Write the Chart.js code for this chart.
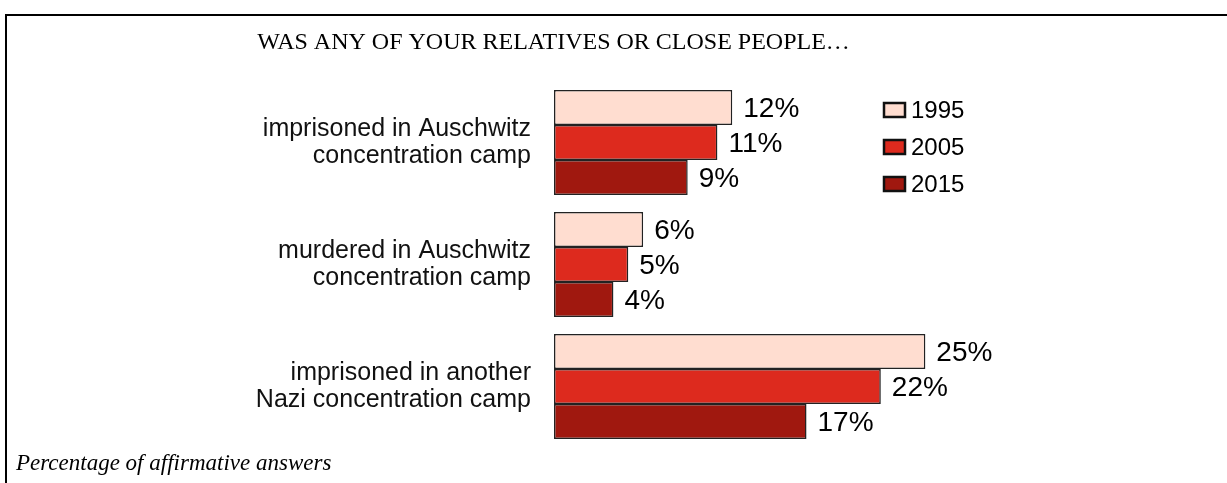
<!DOCTYPE html>
<html>
<head>
<meta charset="utf-8">
<script src="https://cdn.jsdelivr.net/npm/chart.js@4/dist/chart.umd.min.js"></script>
<style>
    html, body { margin: 0; padding: 0; background: #fff; overflow: hidden; }
    #wrap { position: relative; width: 1227px; height: 483px; }
</style>
</head>
<body>
<div id="wrap"><canvas id="surveyChart"></canvas></div>
<script>
const categories = [
    ["imprisoned in Auschwitz", "concentration camp"],
    ["murdered in Auschwitz", "concentration camp"],
    ["imprisoned in another", "Nazi concentration camp"]
];
const years = ["1995", "2005", "2015"];
const values1995 = [12, 6, 25];
const values2005 = [11, 5, 22];
const values2015 = [9, 4, 17];
const barColors = ["#ffddd0", "#dd2a1e", "#a0180f"];

const sansFont = "'Liberation Sans', Arial, sans-serif";
const serifFont = "'Liberation Serif', 'Times New Roman', serif";

// outer frame (top + left edge only, the rest is cut off)
const framePlugin = {
    id: 'frame',
    afterDraw(chart) {
        let ctx = chart.ctx;
        ctx.save();
        ctx.strokeStyle = '#000';
        ctx.lineWidth = 2;
        ctx.beginPath();
        ctx.moveTo(1227, 15);
        ctx.lineTo(6, 15);
        ctx.lineTo(6, 483);
        ctx.stroke();
        ctx.restore();
    }
};

// percent labels at the end of each bar
const valueLabels = {
    id: 'valueLabels',
    afterDatasetsDraw(chart) {
        let ctx = chart.ctx;
        ctx.save();
        ctx.font = `28px ${sansFont}`;
        ctx.fillStyle = '#000';
        ctx.textAlign = 'left';
        ctx.textBaseline = 'middle';
        chart.data.datasets.forEach((ds, i) => {
            chart.getDatasetMeta(i).data.forEach((bar, j) => {
                ctx.fillText(ds.data[j] + '%', bar.x + 11, bar.y + 2);
            });
        });
        ctx.restore();
    }
};

// legend sits inside the plot, top right
const boxLegend = {
    id: 'boxLegend',
    afterDraw(chart) {
        let ctx = chart.ctx;
        ctx.save();
        ctx.font = `24px ${sansFont}`;
        ctx.textBaseline = 'middle';
        ctx.textAlign = 'left';
        chart.data.datasets.forEach((ds, i) => {
            let cy = 110 + i * 37;
            ctx.fillStyle = ds.backgroundColor;
            ctx.fillRect(884, cy - 7, 21, 14);
            ctx.strokeStyle = '#111';
            ctx.lineWidth = 2.5;
            ctx.strokeRect(884, cy - 7, 21, 14);
            ctx.fillStyle = '#000';
            ctx.fillText(ds.label, 911, cy + 1);
        });
        ctx.restore();
    }
};

new Chart("surveyChart", {
    type: 'bar',
    data: {
        labels: categories,
        datasets: [
            { label: years[0], data: values1995, backgroundColor: barColors[0] },
            { label: years[1], data: values2005, backgroundColor: barColors[1] },
            { label: years[2], data: values2015, backgroundColor: barColors[2] }
        ]
    },
    options: {
        indexAxis: 'y',
        responsive: true,
        maintainAspectRatio: false,
        animation: false,
        layout: { padding: { left: 16, right: 136, top: 0, bottom: 0 } },
        datasets: {
            bar: {
                barPercentage: 1,
                categoryPercentage: 0.86,
                borderColor: '#222',
                borderWidth: 1.5,
                borderSkipped: false
            }
        },
        scales: {
            x: {
                display: false,
                min: 0,
                max: 36.15
            },
            y: {
                afterFit(scale) {
                    scale.width = 538;
                    // labels never need extra room above/below the plot
                    scale.paddingTop = 0;
                    scale.paddingBottom = 0;
                },
                grid: { display: false, drawTicks: false },
                border: { display: false },
                ticks: {
                    color: '#111',
                    padding: 23,
                    font: { family: sansFont, size: 25, lineHeight: 1.1 }
                }
            }
        },
        plugins: {
            legend: { display: false },
            tooltip: { enabled: false },
            title: {
                display: true,
                text: 'WAS ANY OF YOUR RELATIVES OR CLOSE PEOPLE…',
                color: '#000',
                font: { family: serifFont, size: 24, weight: 'normal', lineHeight: 1.2 },
                padding: { top: 28.6, bottom: 24.1 }
            },
            subtitle: {
                display: true,
                position: 'bottom',
                align: 'start',
                text: 'Percentage of affirmative answers',
                color: '#000',
                font: { family: serifFont, size: 23, style: 'italic', lineHeight: 1.2 },
                padding: { top: 3, bottom: 4.9 }
            }
        }
    },
    plugins: [framePlugin, valueLabels, boxLegend]
});
</script>
</body>
</html>
